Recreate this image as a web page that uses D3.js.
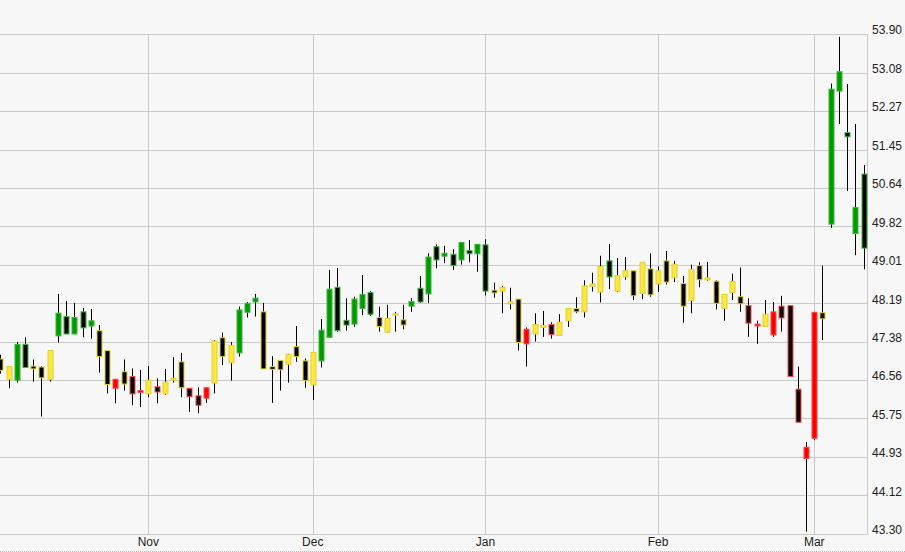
<!DOCTYPE html>
<html>
<head>
<meta charset="utf-8">
<script src="https://cdn.jsdelivr.net/npm/d3@7"></script>
<style>
  html, body { margin: 0; padding: 0; background: #f7f7f7; }
  svg { display: block; }
  text { font-family: "Liberation Sans", Arial, sans-serif; font-size: 12px; fill: #222; }
</style>
</head>
<body>
<svg id="chart" width="905" height="552"></svg>
<script>
// ---- data ----
// body top / body bottom are derived from open/close; 'up' candles are filled with their colour,
// 'down' candles are black with a coloured outline.
const opens  = [47.01,46.58,46.56,47.32,46.86,46.84,46.58,47.50,47.91,47.54,48.01,47.71,47.61,47.19,46.39,46.74,46.64,46.30,46.27,46.42,
                46.27,46.56,46.95,46.39,46.23,46.18,46.50,47.46,46.93,47.14,48.00,48.22,48.01,46.85,46.98,46.90,47.27,46.97,46.46,46.97,
                47.47,48.53,47.83,47.75,48.08,48.42,47.89,47.58,47.94,47.84,48.13,48.51,48.39,49.39,49.19,49.23,49.11,49.31,49.24,49.43,
                48.47,48.45,48.18,48.28,47.33,47.54,47.68,47.74,47.51,47.82,48.08,48.01,48.55,48.43,49.09,48.45,48.75,48.88,48.40,48.92,
                48.60,49.09,48.73,48.61,48.25,48.99,48.69,48.66,48.08,48.42,48.33,48.14,47.71,47.70,47.52,48.13,48.14,46.37,44.90,45.33,
                47.99,49.87,52.69,51.81,49.67,50.93];
const closes = [46.77,46.85,47.32,46.83,46.80,46.61,47.19,47.98,47.54,47.89,47.67,47.82,47.06,46.47,46.58,46.48,46.27,46.34,46.56,46.31,
                46.52,46.60,46.40,46.21,46.03,46.40,47.39,47.06,47.30,48.05,48.19,48.30,46.80,46.79,46.78,47.11,47.06,46.55,47.15,47.62,
                48.49,47.61,47.73,48.28,48.38,47.96,47.70,47.87,47.97,47.73,48.23,48.22,49.17,49.11,49.25,48.99,49.48,49.24,49.44,48.45,
                48.41,48.53,48.22,47.36,47.64,47.74,47.72,47.53,47.79,48.08,48.01,48.56,48.60,48.97,48.75,48.78,48.88,48.35,49.06,48.37,
                48.88,48.64,49.02,48.13,48.91,48.69,48.73,48.19,48.38,48.65,48.18,47.77,47.75,47.96,48.01,47.88,46.64,45.67,45.14,48.00,
                47.86,52.73,53.10,51.72,50.22,49.36];
const highs  = [47.10,46.86,47.37,47.47,47.00,46.86,47.20,48.39,48.24,48.20,48.09,48.07,47.73,47.19,46.58,47.00,46.81,46.78,46.86,46.60,
                46.80,47.05,47.14,46.39,46.41,46.41,47.41,47.57,47.37,48.12,48.22,48.39,48.20,47.07,46.98,47.12,47.71,47.02,47.15,47.86,
                48.90,48.94,48.30,48.33,48.79,48.45,48.12,48.16,48.01,48.16,48.30,48.77,49.25,49.44,49.41,49.34,49.48,49.53,49.44,49.55,
                48.63,48.56,48.52,48.28,47.68,47.98,48.03,47.79,47.96,48.08,48.32,48.68,48.84,49.20,49.45,49.15,49.17,48.88,49.06,49.25,
                48.97,49.30,49.09,48.77,49.01,49.06,49.07,48.68,48.38,48.82,48.95,48.30,47.82,48.26,48.22,48.35,48.14,46.85,45.25,48.00,
                48.99,52.85,53.84,52.84,51.99,51.12];
const lows   = [46.70,46.39,46.51,46.82,46.53,45.79,46.53,47.36,47.54,47.54,47.47,47.44,46.72,46.28,46.07,46.34,46.03,45.99,46.20,46.07,
                46.25,46.51,46.20,45.89,45.86,46.08,46.28,46.88,46.55,47.06,47.89,47.91,46.80,46.08,46.34,46.51,46.95,46.40,46.14,46.83,
                47.47,47.59,47.61,47.69,47.94,47.92,47.59,47.57,47.59,47.64,48.01,48.20,48.20,48.93,49.04,48.90,49.01,49.06,48.86,48.36,
                48.31,47.98,48.06,47.19,46.85,47.38,47.48,47.44,47.51,47.69,47.98,47.89,48.44,48.21,48.49,48.43,48.69,48.26,48.28,48.33,
                48.43,48.59,48.64,47.78,47.98,48.53,48.67,48.06,47.82,48.26,48.01,47.48,47.33,47.70,47.48,47.59,46.64,45.67,43.35,45.29,
                47.41,49.79,51.99,50.57,49.21,48.91];
const signals = ["Y","Y","G","G","Y","Y","Y","G","G","G","G","G","Y","Y","R","Y","R","R","Y","R",
                 "Y","Y","Y","R","R","R","Y","Y","Y","G","G","G","Y","Y","Y","Y","Y","Y","Y","G",
                 "G","G","G","G","G","G","Y","Y","Y","Y","G","G","G","G","G","G","G","G","G","G",
                 "Y","Y","Y","Y","R","Y","Y","R","Y","Y","Y","Y","Y","Y","G","Y","Y","Y","Y","Y",
                 "Y","Y","Y","Y","Y","Y","Y","Y","Y","Y","Y","R","R","Y","R","R","R","R","R","R",
                 "Y","G","G","G","G","G"];
const monthLabels = ["Nov","Dec","Jan","Feb","Mar"];
const monthStartIndex = [18, 38, 59, 80, 99];
const priceTicks = [43.30,44.12,44.93,45.75,46.56,47.38,48.19,49.01,49.82,50.64,51.45,52.27,53.08,53.90];

// ---- styling ----
const fillColor   = { G: "#009900", Y: "#fbe73e", R: "#ff0000" };
const strokeColor = { G: "#3cb83c", Y: "#e3cf2c", R: "#ff4a4a" };

const svg = d3.select("#chart");
const plotLeft = -3.8, plotRight = 867.7, plotTop = 34, plotBottom = 534;

const n = opens.length;
const x = d3.scaleBand().domain(d3.range(n)).range([plotLeft, plotRight]).padding(0);
const y = d3.scaleLinear().domain([43.30, 53.90]).range([plotBottom, plotTop]);
const cx = i => x(i) + x.bandwidth() / 2;

// background
svg.append("rect").attr("x", 0).attr("y", 0).attr("width", 905).attr("height", 552).attr("fill", "#f7f7f7");

// horizontal gridlines
svg.append("g").selectAll("line").data(priceTicks).join("line")
  .attr("x1", 0).attr("x2", 867.5)
  .attr("y1", d => Math.round(y(d)) + 0.5).attr("y2", d => Math.round(y(d)) + 0.5)
  .attr("stroke", "#c9c9c9").attr("stroke-width", 1);

// vertical month gridlines
svg.append("g").selectAll("line").data(monthStartIndex).join("line")
  .attr("x1", d => Math.round(cx(d)) + 0.5).attr("x2", d => Math.round(cx(d)) + 0.5)
  .attr("y1", plotTop).attr("y2", plotBottom)
  .attr("stroke", "#c9c9c9").attr("stroke-width", 1);

// right border
svg.append("line").attr("x1", 867.5).attr("x2", 867.5).attr("y1", plotTop).attr("y2", plotBottom + 0.5)
  .attr("stroke", "#c9c9c9");

// bottom dotted strip
svg.append("line").attr("x1", 0).attr("x2", 905).attr("y1", 551.5).attr("y2", 551.5)
  .attr("stroke", "#b5b5b5").attr("stroke-dasharray", "1,1");

// y axis labels (right)
const yAxis = d3.axisRight(y).tickValues(priceTicks).tickFormat(d3.format(".2f")).tickSize(0).tickPadding(0);
const yg = svg.append("g").attr("transform", "translate(872,0)").call(yAxis);
yg.select(".domain").remove();
yg.selectAll("text").attr("dy", "-0.02em").style("font-family", '"Liberation Sans", Arial, sans-serif')
  .style("font-size", "12px").attr("fill", "#222");

// x axis labels (months)
const xAxis = d3.axisBottom(x).tickValues(monthStartIndex)
  .tickFormat((d, i) => monthLabels[i]).tickSize(0).tickPadding(0);
const xg = svg.append("g").attr("transform", "translate(0,537)").call(xAxis);
xg.select(".domain").remove();
xg.selectAll("text").style("font-family", '"Liberation Sans", Arial, sans-serif')
  .style("font-size", "12px").attr("fill", "#222");

// candles
const idx = d3.range(n);
const g = svg.append("g");
g.selectAll("line.wick").data(idx).join("line").attr("class", "wick")
  .attr("x1", i => Math.round(cx(i)) + 0.5).attr("x2", i => Math.round(cx(i)) + 0.5)
  .attr("y1", i => y(highs[i])).attr("y2", i => y(lows[i]))
  .attr("stroke", "#000").attr("stroke-width", 1);

g.selectAll("rect.body").data(idx).join("rect").attr("class", "body")
  .attr("x", i => Math.round(cx(i)) - 2)
  .attr("width", 5)
  .attr("y", i => y(Math.max(opens[i], closes[i])))
  .attr("height", i => Math.max(1, Math.abs(y(opens[i]) - y(closes[i]))))
  .attr("fill", i => closes[i] >= opens[i] ? fillColor[signals[i]] : "#000")
  .attr("stroke", i => strokeColor[signals[i]])
  .attr("stroke-width", 1);
</script>
</body>
</html>
